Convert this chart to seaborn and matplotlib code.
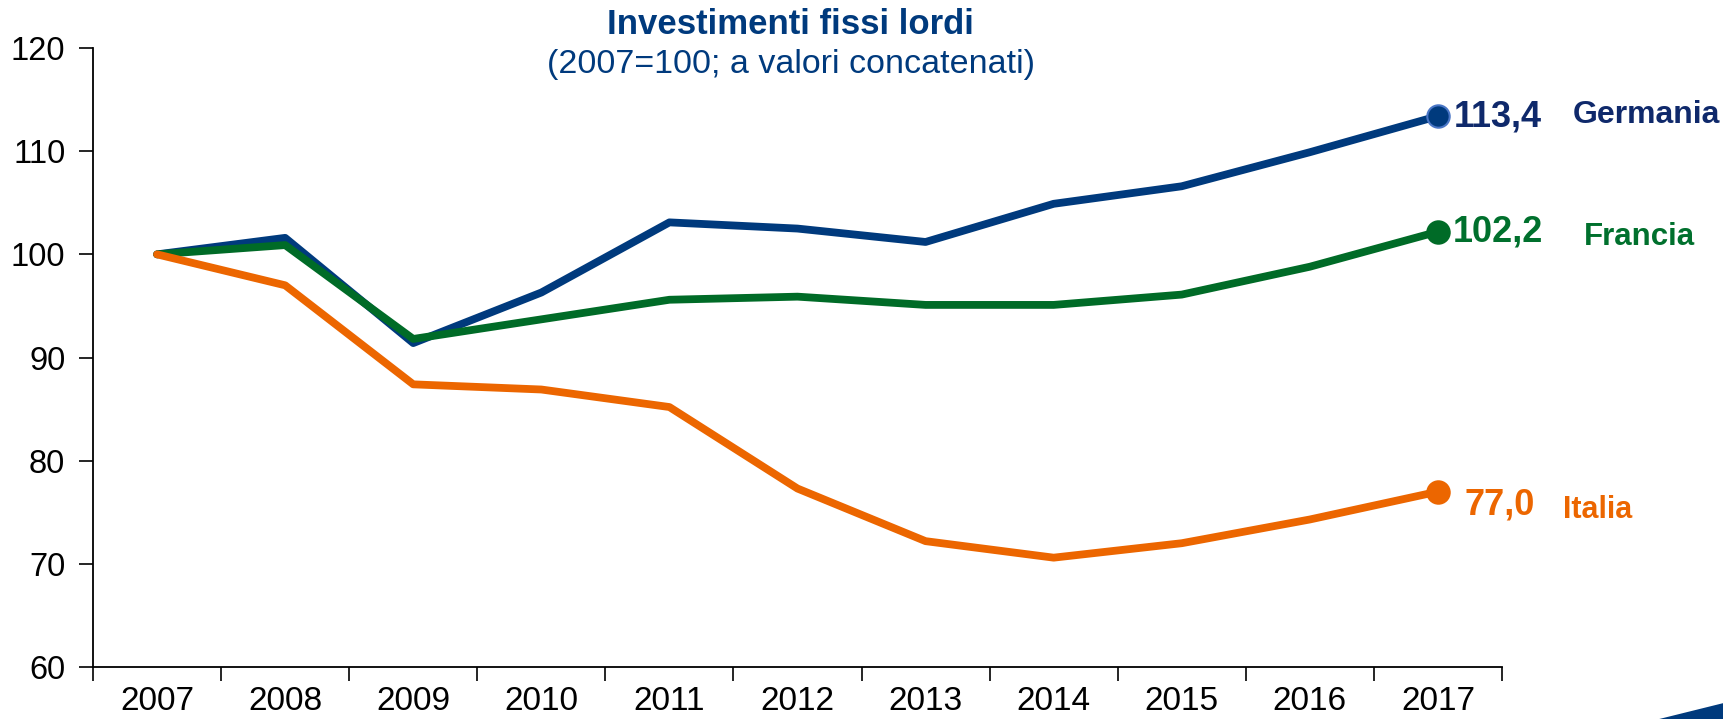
import matplotlib
matplotlib.use("Agg")
import matplotlib.pyplot as plt
import matplotlib.patches as mpatches
from matplotlib.ticker import FixedLocator
import seaborn as sns
import pandas as pd

years = [2007, 2008, 2009, 2010, 2011, 2012, 2013, 2014, 2015, 2016, 2017]
germania = [100.0, 101.6, 91.4, 96.3, 103.1, 102.5, 101.2, 104.9, 106.6, 109.9, 113.4]
francia = [100.0, 100.9, 91.8, 93.7, 95.6, 95.9, 95.1, 95.1, 96.1, 98.8, 102.2]
italia = [100.0, 97.0, 87.4, 86.9, 85.2, 77.3, 72.2, 70.6, 72.0, 74.3, 77.0]
series_names = ["Germania", "Francia", "Italia"]
end_labels = ["113,4", "102,2", "77,0"]
title = "Investimenti fissi lordi"
subtitle = "(2007=100; a valori concatenati)"

sns.set_theme(style="white")
plt.rcParams['font.family'] = ['Liberation Sans', 'DejaVu Sans']

line_colors = {"Germania": "#003A7D", "Francia": "#006B27", "Italia": "#EC6600"}
label_colors = {"Germania": "#0F296B", "Francia": "#00702D", "Italia": "#EC6600"}
marker_edges = {"Germania": "#4A76C6", "Francia": "#006B27", "Italia": "#EC6600"}

df = pd.DataFrame({
    "anno": years * 3,
    "valore": germania + francia + italia,
    "paese": [n for n in series_names for _ in years],
})

fig = plt.figure(figsize=(17.23, 7.19), dpi=100)
ax = fig.add_axes([0.054, 0.0723, 0.8177, 0.8609])

sns.lineplot(data=df, x="anno", y="valore", hue="paese", hue_order=["Germania", "Francia", "Italia"],
             palette=line_colors, linewidth=5.6, legend=False, ax=ax, sort=False)

last = df[df["anno"] == years[-1]]
offsets = {
    "Germania": ((16, -1), (135, 1)),
    "Francia": ((15, 0), (146, -5)),
    "Italia": ((27, -13), (125, -18)),
}
name_sizes = {"Germania": 23, "Francia": 22.5, "Italia": 22}
for name, lab in zip(series_names, end_labels):
    row = last[last["paese"] == name]
    sns.scatterplot(data=row, x="anno", y="valore", color=line_colors[name], s=260,
                    edgecolor=marker_edges[name], linewidth=1.5, ax=ax, zorder=5, legend=False)
    v = float(row["valore"].iloc[0])
    (o1, o2) = offsets[name]
    ax.annotate(lab, xy=(years[-1], v), xytext=o1, textcoords="offset pixels",
                ha="left", va="center", fontsize=26, fontweight="bold",
                color=label_colors[name], annotation_clip=False)
    ax.annotate(name, xy=(years[-1], v), xytext=o2, textcoords="offset pixels",
                ha="left", va="center", fontsize=name_sizes[name], fontweight="bold",
                color=label_colors[name], annotation_clip=False)

ax.set_xlim(years[0] - 0.5, years[-1] + 0.5)
ax.set_ylim(60, 120)
ax.set_yticks(range(60, 121, 10))
ax.set_xticks(years)
ax.set_xticklabels([str(y) for y in years])
ax.xaxis.set_minor_locator(FixedLocator([y - 0.5 for y in years] + [years[-1] + 0.5]))
ax.tick_params(axis="x", which="major", length=0, pad=14, labelsize=24, labelcolor="black")
ax.tick_params(axis="x", which="minor", length=10, width=1.2, color="black", direction="out", bottom=True)
ax.tick_params(axis="y", which="major", length=10, width=1.2, color="black", direction="out",
               left=True, pad=10, labelsize=23.5, labelcolor="black")
ax.set_xlabel("")
ax.set_ylabel("")
for s in ["top", "right"]:
    ax.spines[s].set_visible(False)
for s in ["left", "bottom"]:
    ax.spines[s].set_color("black")
    ax.spines[s].set_linewidth(1.3)

fig.text(0.459, 0.966, title, ha="center", va="center", fontsize=25, fontweight="bold", color="#003A7D")
fig.text(0.459, 0.910, subtitle, ha="center", va="center", fontsize=24.5, color="#003A7D")

fig.patches.append(mpatches.Polygon([(0.963, 0.0), (1.0, 0.022), (1.0, 0.0)], closed=True,
                                    transform=fig.transFigure, facecolor="#003A7D", edgecolor="none"))

fig.savefig("out.png", dpi=100, facecolor="white")
